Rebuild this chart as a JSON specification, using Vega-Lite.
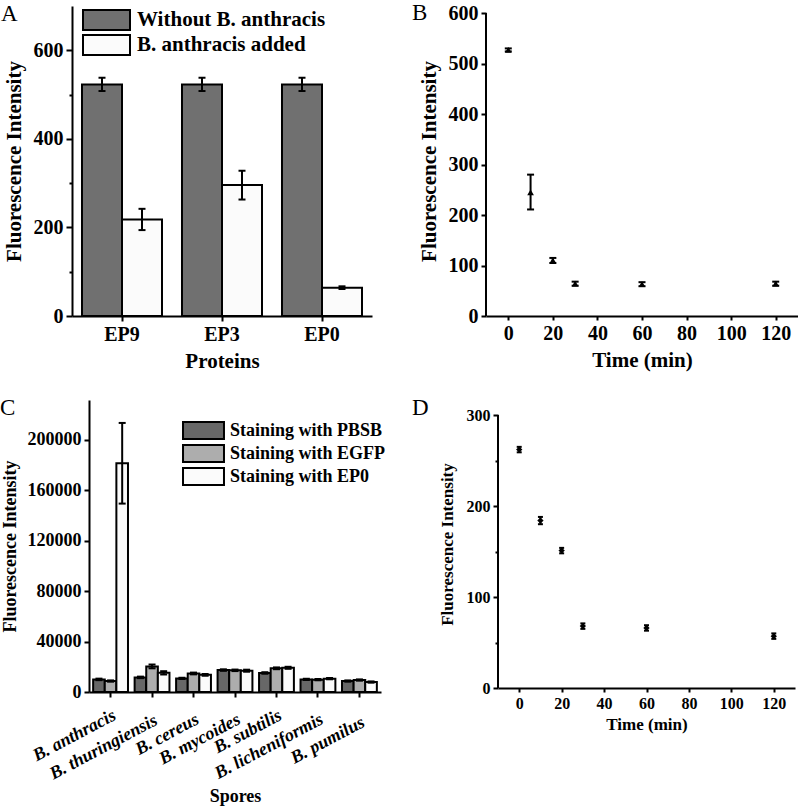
{
  "$schema": "https://vega.github.io/schema/vega-lite/v6.json",
  "background": "white",
  "padding": {"left": 0, "top": 2, "right": 0, "bottom": 0},
  "config": {
    "view": {"stroke": null},
    "font": "Liberation Serif",
    "axis": {"domainColor": "black", "domainWidth": 2, "tickColor": "black", "tickWidth": 2, "labelColor": "black", "titleColor": "black", "labelFont": "Liberation Serif", "titleFont": "Liberation Serif", "labelFontWeight": "bold", "titleFontWeight": "bold", "grid": false, "labelOverlap": false},
    "legend": {"labelFont": "Liberation Serif", "labelFontWeight": "bold", "labelColor": "black", "labelLimit": 400},
    "title": {"font": "Liberation Serif", "fontWeight": "normal", "fontSize": 23, "anchor": "start", "frame": "group", "baseline": "top", "color": "black", "offset": 0}
  },
  "datasets": {
    "a": [
      {"protein": "EP9", "condition": "Without B. anthracis", "value": 523, "lo": 508, "hi": 538},
      {"protein": "EP9", "condition": "B. anthracis added", "value": 218, "lo": 194, "hi": 242},
      {"protein": "EP3", "condition": "Without B. anthracis", "value": 523, "lo": 508, "hi": 538},
      {"protein": "EP3", "condition": "B. anthracis added", "value": 296, "lo": 263, "hi": 328},
      {"protein": "EP0", "condition": "Without B. anthracis", "value": 523, "lo": 508, "hi": 538},
      {"protein": "EP0", "condition": "B. anthracis added", "value": 64, "lo": 61, "hi": 67}
    ],
    "b": [
      {"time": 0, "value": 527, "lo": 524, "hi": 530},
      {"time": 10, "value": 245, "lo": 211, "hi": 280},
      {"time": 20, "value": 110, "lo": 105, "hi": 115},
      {"time": 30, "value": 64, "lo": 60, "hi": 68},
      {"time": 60, "value": 63, "lo": 59, "hi": 67},
      {"time": 120, "value": 64, "lo": 60, "hi": 68}
    ],
    "c": [
      {"species": "B. anthracis", "stain": "Staining with PBSB", "value": 10000, "lo": 9400, "hi": 10600},
      {"species": "B. anthracis", "stain": "Staining with EGFP", "value": 8700, "lo": 8200, "hi": 9200},
      {"species": "B. anthracis", "stain": "Staining with EP0", "value": 181500, "lo": 149500, "hi": 213500},
      {"species": "B. thuringiensis", "stain": "Staining with PBSB", "value": 11600, "lo": 11000, "hi": 12200},
      {"species": "B. thuringiensis", "stain": "Staining with EGFP", "value": 20300, "lo": 18800, "hi": 21800},
      {"species": "B. thuringiensis", "stain": "Staining with EP0", "value": 15200, "lo": 13900, "hi": 16500},
      {"species": "B. cereus", "stain": "Staining with PBSB", "value": 10800, "lo": 10300, "hi": 11300},
      {"species": "B. cereus", "stain": "Staining with EGFP", "value": 14700, "lo": 14000, "hi": 15400},
      {"species": "B. cereus", "stain": "Staining with EP0", "value": 13600, "lo": 12900, "hi": 14300},
      {"species": "B. mycoides", "stain": "Staining with PBSB", "value": 17400, "lo": 16800, "hi": 18000},
      {"species": "B. mycoides", "stain": "Staining with EGFP", "value": 17200, "lo": 16600, "hi": 17800},
      {"species": "B. mycoides", "stain": "Staining with EP0", "value": 16900, "lo": 16100, "hi": 17700},
      {"species": "B. subtilis", "stain": "Staining with PBSB", "value": 15100, "lo": 14500, "hi": 15700},
      {"species": "B. subtilis", "stain": "Staining with EGFP", "value": 18800, "lo": 18100, "hi": 19500},
      {"species": "B. subtilis", "stain": "Staining with EP0", "value": 19200, "lo": 18400, "hi": 20000},
      {"species": "B. licheniformis", "stain": "Staining with PBSB", "value": 10000, "lo": 9500, "hi": 10500},
      {"species": "B. licheniformis", "stain": "Staining with EGFP", "value": 9800, "lo": 9300, "hi": 10300},
      {"species": "B. licheniformis", "stain": "Staining with EP0", "value": 10600, "lo": 10100, "hi": 11100},
      {"species": "B. pumilus", "stain": "Staining with PBSB", "value": 8700, "lo": 8200, "hi": 9200},
      {"species": "B. pumilus", "stain": "Staining with EGFP", "value": 9500, "lo": 9000, "hi": 10000},
      {"species": "B. pumilus", "stain": "Staining with EP0", "value": 7900, "lo": 7400, "hi": 8400}
    ],
    "d": [
      {"time": 0, "value": 262, "lo": 259, "hi": 265},
      {"time": 10, "value": 184, "lo": 180, "hi": 188},
      {"time": 20, "value": 151, "lo": 148, "hi": 154},
      {"time": 30, "value": 68, "lo": 65, "hi": 71},
      {"time": 60, "value": 66, "lo": 63, "hi": 69},
      {"time": 120, "value": 57, "lo": 54, "hi": 60}
    ]
  },
  "columns": 1,
  "spacing": 26,
  "resolve": {"scale": {"x": "independent", "y": "independent", "xOffset": "independent", "fill": "independent"}, "legend": {"fill": "independent"}, "axis": {"x": "independent", "y": "independent"}},
  "concat": [
    {
      "spacing": 114,
      "bounds": "flush",
      "resolve": {"scale": {"x": "independent", "y": "independent", "xOffset": "independent", "fill": "independent"}, "legend": {"fill": "independent"}, "axis": {"x": "independent", "y": "independent"}},
      "hconcat": [
        {
          "width": 300, "height": 310,
          "title": {"text": "A", "dx": -71, "dy": 24},
          "data": {"name": "a"},
          "layer": [
            {
              "mark": {"type": "bar", "stroke": "black", "strokeWidth": 2},
              "encoding": {
                "x": {"field": "protein", "type": "nominal", "sort": ["EP9", "EP3", "EP0"], "title": "Proteins",
                  "scale": {"paddingInner": 0.2, "paddingOuter": 0.1},
                  "axis": {"labelAngle": 0, "labelFontSize": 20, "titleFontSize": 21, "tickSize": 5, "labelPadding": 3, "titlePadding": 6}},
                "xOffset": {"field": "condition", "type": "nominal", "sort": ["Without B. anthracis", "B. anthracis added"]},
                "y": {"field": "value", "type": "quantitative", "title": "Fluorescence Intensity",
                  "scale": {"domain": [0, 700], "nice": false},
                  "axis": {"values": [0, 100, 200, 300, 400, 500, 600], "labelExpr": "datum.value % 200 == 0 ? datum.label : ''",
                    "tickSize": {"condition": {"test": "datum.value % 200 == 0", "value": 6}, "value": 3},
                    "labelFontSize": 20, "titleFontSize": 21, "labelPadding": 3, "titlePadding": 9}},
                "fill": {"field": "condition", "type": "nominal",
                  "scale": {"domain": ["Without B. anthracis", "B. anthracis added"], "range": ["#707070", "#fbfbfb"]},
                  "legend": {"orient": "none", "legendX": 23.5, "legendY": 3, "title": null,
                    "symbolType": "M-2.35,-1H2.35V1H-2.35Z", "symbolSize": 400, "symbolStrokeColor": "black", "symbolStrokeWidth": 2,
                    "labelFontSize": 21, "labelOffset": 19.5, "rowPadding": -4, "symbolOpacity": 1}}
              }
            },
            {
              "mark": {"type": "rule", "color": "black", "strokeWidth": 2},
              "encoding": {
                "x": {"field": "protein", "type": "nominal", "sort": ["EP9", "EP3", "EP0"], "title": "Proteins"},
                "xOffset": {"field": "condition", "type": "nominal", "sort": ["Without B. anthracis", "B. anthracis added"]},
                "y": {"field": "lo", "type": "quantitative", "title": "Fluorescence Intensity"},
                "y2": {"field": "hi"}
              }
            },
            {
              "mark": {"type": "point", "shape": "M-1,0H1", "filled": false, "color": "black", "strokeWidth": 2, "size": 49, "opacity": 1},
              "encoding": {
                "x": {"field": "protein", "type": "nominal", "sort": ["EP9", "EP3", "EP0"], "title": "Proteins"},
                "xOffset": {"field": "condition", "type": "nominal", "sort": ["Without B. anthracis", "B. anthracis added"]},
                "y": {"field": "lo", "type": "quantitative", "title": "Fluorescence Intensity"}
              }
            },
            {
              "mark": {"type": "point", "shape": "M-1,0H1", "filled": false, "color": "black", "strokeWidth": 2, "size": 49, "opacity": 1},
              "encoding": {
                "x": {"field": "protein", "type": "nominal", "sort": ["EP9", "EP3", "EP0"], "title": "Proteins"},
                "xOffset": {"field": "condition", "type": "nominal", "sort": ["Without B. anthracis", "B. anthracis added"]},
                "y": {"field": "hi", "type": "quantitative", "title": "Fluorescence Intensity"}
              }
            }
          ]
        },
        {
          "width": 312, "height": 310,
          "title": {"text": "B", "dx": -74, "dy": 26},
          "data": {"name": "b"},
          "layer": [
            {
              "mark": {"type": "point", "shape": "triangle-up", "filled": true, "color": "black", "size": 45, "opacity": 1},
              "encoding": {
                "x": {"field": "time", "type": "quantitative", "title": "Time (min)",
                  "scale": {"domain": [-10, 130], "nice": false, "zero": false},
                  "axis": {"values": [0, 10, 20, 30, 40, 50, 60, 70, 80, 90, 100, 110, 120],
                    "labelExpr": "datum.value % 20 == 0 ? datum.label : ''", "labelOverlap": false, "labelFlush": false,
                    "tickSize": 4, "labelFontSize": 20, "titleFontSize": 21, "labelPadding": 3, "titlePadding": 6}},
                "y": {"field": "value", "type": "quantitative", "title": "Fluorescence Intensity",
                  "scale": {"domain": [0, 614], "nice": false},
                  "axis": {"domain": false, "values": [0, 50, 100, 150, 200, 250, 300, 350, 400, 450, 500, 550, 600],
                    "labelExpr": "datum.value % 100 == 0 ? datum.label : ''", "labelOverlap": false,
                    "tickSize": {"condition": {"test": "datum.value % 100 == 0", "value": 5}, "value": 3},
                    "labelFontSize": 20, "titleFontSize": 21, "labelPadding": 3, "titlePadding": 9}}
              }
            },
            {
              "mark": {"type": "rule", "color": "black", "strokeWidth": 2},
              "encoding": {
                "x": {"datum": -10, "type": "quantitative", "title": "Time (min)"},
                "y": {"datum": 0, "type": "quantitative", "title": "Fluorescence Intensity"},
                "y2": {"datum": 600}
              }
            },
            {
              "mark": {"type": "rule", "color": "black", "strokeWidth": 2},
              "encoding": {
                "x": {"field": "time", "type": "quantitative", "title": "Time (min)"},
                "y": {"field": "lo", "type": "quantitative", "title": "Fluorescence Intensity"},
                "y2": {"field": "hi"}
              }
            },
            {
              "mark": {"type": "point", "shape": "M-1,0H1", "filled": false, "color": "black", "strokeWidth": 2, "size": 49, "opacity": 1},
              "encoding": {
                "x": {"field": "time", "type": "quantitative", "title": "Time (min)"},
                "y": {"field": "lo", "type": "quantitative", "title": "Fluorescence Intensity"}
              }
            },
            {
              "mark": {"type": "point", "shape": "M-1,0H1", "filled": false, "color": "black", "strokeWidth": 2, "size": 49, "opacity": 1},
              "encoding": {
                "x": {"field": "time", "type": "quantitative", "title": "Time (min)"},
                "y": {"field": "hi", "type": "quantitative", "title": "Fluorescence Intensity"}
              }
            }
          ]
        }
      ]
    },
    {
      "spacing": 117,
      "bounds": "flush",
      "resolve": {"scale": {"x": "independent", "y": "independent", "xOffset": "independent", "fill": "independent"}, "legend": {"fill": "independent"}, "axis": {"x": "independent", "y": "independent"}},
      "hconcat": [
        {
          "width": 309, "height": 292,
          "title": {"text": "C", "dx": -72, "dy": 24},
          "data": {"name": "c"},
          "layer": [
            {
              "mark": {"type": "bar", "stroke": "black", "strokeWidth": 2},
              "encoding": {
                "x": {"field": "species", "type": "nominal", "title": "Spores",
                  "sort": ["B. anthracis", "B. thuringiensis", "B. cereus", "B. mycoides", "B. subtilis", "B. licheniformis", "B. pumilus"],
                  "scale": {"paddingInner": 0.16, "paddingOuter": 0.1, "range": [17, 309]},
                  "axis": {"labelAngle": -28, "labelAlign": "right", "labelBaseline": "top", "labelFontStyle": "italic", "labelFontSize": 18, "titleFontSize": 18, "tickSize": 5,
                    "labelPadding": {"condition": [
                      {"test": "datum.value == 'B. thuringiensis'", "value": 14},
                      {"test": "datum.value == 'B. cereus'", "value": 13},
                      {"test": "datum.value == 'B. mycoides'", "value": 13},
                      {"test": "datum.value == 'B. subtilis'", "value": 9},
                      {"test": "datum.value == 'B. licheniformis'", "value": 13},
                      {"test": "datum.value == 'B. pumilus'", "value": 16}
                    ], "value": 9},
                    "titlePadding": 5}},
                "xOffset": {"field": "stain", "type": "nominal", "sort": ["Staining with PBSB", "Staining with EGFP", "Staining with EP0"]},
                "y": {"field": "value", "type": "quantitative", "title": "Fluorescence Intensity",
                  "scale": {"domain": [0, 231700], "nice": false},
                  "axis": {"offset": -17, "values": [0, 20000, 40000, 60000, 80000, 100000, 120000, 140000, 160000, 180000, 200000, 220000],
                    "format": "d", "labelExpr": "datum.value % 40000 == 0 ? datum.label : ''",
                    "tickSize": {"condition": {"test": "datum.value % 40000 == 0", "value": 5}, "value": 3},
                    "labelFontSize": 18, "titleFontSize": 18, "labelPadding": 3, "titlePadding": 8}},
                "fill": {"field": "stain", "type": "nominal",
                  "scale": {"domain": ["Staining with PBSB", "Staining with EGFP", "Staining with EP0"], "range": ["#676767", "#adadad", "#fbfbfb"]},
                  "legend": {"orient": "none", "legendX": 122, "legendY": 21, "title": null,
                    "symbolType": "M-2.41,-1H2.41V1H-2.41Z", "symbolSize": 289, "symbolStrokeColor": "black", "symbolStrokeWidth": 2,
                    "labelFontSize": 18, "labelOffset": 17, "rowPadding": -2, "symbolOpacity": 1}}
              }
            },
            {
              "mark": {"type": "rule", "color": "black", "strokeWidth": 2},
              "encoding": {
                "x": {"field": "species", "type": "nominal", "title": "Spores", "sort": ["B. anthracis", "B. thuringiensis", "B. cereus", "B. mycoides", "B. subtilis", "B. licheniformis", "B. pumilus"]},
                "xOffset": {"field": "stain", "type": "nominal", "sort": ["Staining with PBSB", "Staining with EGFP", "Staining with EP0"]},
                "y": {"field": "lo", "type": "quantitative", "title": "Fluorescence Intensity"},
                "y2": {"field": "hi"}
              }
            },
            {
              "mark": {"type": "point", "shape": "M-1,0H1", "filled": false, "color": "black", "strokeWidth": 2, "size": 49, "opacity": 1},
              "encoding": {
                "x": {"field": "species", "type": "nominal", "title": "Spores", "sort": ["B. anthracis", "B. thuringiensis", "B. cereus", "B. mycoides", "B. subtilis", "B. licheniformis", "B. pumilus"]},
                "xOffset": {"field": "stain", "type": "nominal", "sort": ["Staining with PBSB", "Staining with EGFP", "Staining with EP0"]},
                "y": {"field": "lo", "type": "quantitative", "title": "Fluorescence Intensity"}
              }
            },
            {
              "mark": {"type": "point", "shape": "M-1,0H1", "filled": false, "color": "black", "strokeWidth": 2, "size": 49, "opacity": 1},
              "encoding": {
                "x": {"field": "species", "type": "nominal", "title": "Spores", "sort": ["B. anthracis", "B. thuringiensis", "B. cereus", "B. mycoides", "B. subtilis", "B. licheniformis", "B. pumilus"]},
                "xOffset": {"field": "stain", "type": "nominal", "sort": ["Staining with PBSB", "Staining with EGFP", "Staining with EP0"]},
                "y": {"field": "hi", "type": "quantitative", "title": "Fluorescence Intensity"}
              }
            }
          ]
        },
        {
          "width": 297, "height": 288,
          "title": {"text": "D", "dx": -86, "dy": 24},
          "data": {"name": "d"},
          "layer": [
            {
              "mark": {"type": "point", "shape": "diamond", "filled": true, "color": "black", "size": 40, "opacity": 1},
              "encoding": {
                "x": {"field": "time", "type": "quantitative", "title": "Time (min)",
                  "scale": {"domain": [-10, 130], "nice": false, "zero": false},
                  "axis": {"values": [0, 10, 20, 30, 40, 50, 60, 70, 80, 90, 100, 110, 120],
                    "labelExpr": "datum.value % 20 == 0 ? datum.label : ''", "labelOverlap": false, "labelFlush": false,
                    "tickSize": 4, "labelFontSize": 16, "titleFontSize": 17, "labelPadding": 3, "titlePadding": 5}},
                "y": {"field": "value", "type": "quantitative", "title": "Fluorescence Intensity",
                  "scale": {"domain": [0, 316.5], "nice": false},
                  "axis": {"domain": false, "values": [0, 50, 100, 150, 200, 250, 300],
                    "labelExpr": "datum.value % 100 == 0 ? datum.label : ''", "labelOverlap": false,
                    "tickSize": {"condition": {"test": "datum.value % 100 == 0", "value": 5}, "value": 3},
                    "labelFontSize": 16, "titleFontSize": 17, "labelPadding": 3, "titlePadding": 10}}
              }
            },
            {
              "mark": {"type": "rule", "color": "black", "strokeWidth": 2},
              "encoding": {
                "x": {"datum": -10, "type": "quantitative", "title": "Time (min)"},
                "y": {"datum": 0, "type": "quantitative", "title": "Fluorescence Intensity"},
                "y2": {"datum": 300}
              }
            },
            {
              "mark": {"type": "rule", "color": "black", "strokeWidth": 2},
              "encoding": {
                "x": {"field": "time", "type": "quantitative", "title": "Time (min)"},
                "y": {"field": "lo", "type": "quantitative", "title": "Fluorescence Intensity"},
                "y2": {"field": "hi"}
              }
            },
            {
              "mark": {"type": "point", "shape": "M-1,0H1", "filled": false, "color": "black", "strokeWidth": 2, "size": 25, "opacity": 1},
              "encoding": {
                "x": {"field": "time", "type": "quantitative", "title": "Time (min)"},
                "y": {"field": "lo", "type": "quantitative", "title": "Fluorescence Intensity"}
              }
            },
            {
              "mark": {"type": "point", "shape": "M-1,0H1", "filled": false, "color": "black", "strokeWidth": 2, "size": 25, "opacity": 1},
              "encoding": {
                "x": {"field": "time", "type": "quantitative", "title": "Time (min)"},
                "y": {"field": "hi", "type": "quantitative", "title": "Fluorescence Intensity"}
              }
            }
          ]
        }
      ]
    }
  ]
}
